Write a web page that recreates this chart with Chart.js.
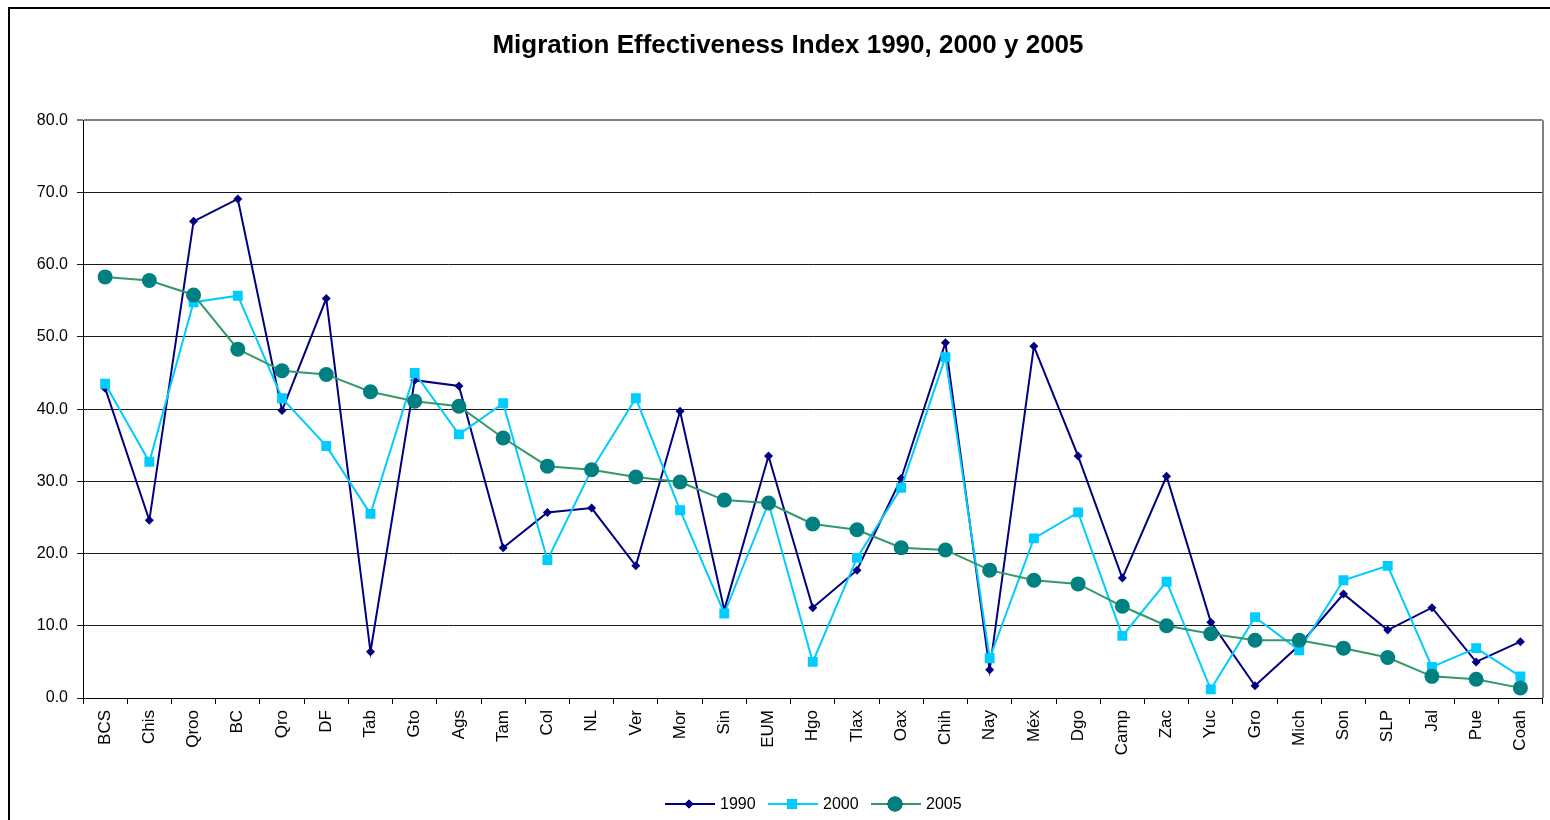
<!DOCTYPE html>
<html>
<head>
<meta charset="utf-8">
<script src="https://cdn.jsdelivr.net/npm/chart.js@4.4.1/dist/chart.umd.min.js"></script>
<style>
  html, body { margin: 0; padding: 0; background: #ffffff; }
  #wrap { width: 1550px; height: 820px; position: relative; }
</style>
</head>
<body>
<div id="wrap"><canvas id="c" width="1550" height="820"></canvas></div>
<script>
const titleText = 'Migration Effectiveness Index 1990, 2000 y 2005';
const categories = ['BCS','Chis','Qroo','BC','Qro','DF','Tab','Gto','Ags','Tam','Col','NL','Ver','Mor','Sin','EUM','Hgo','Tlax','Oax','Chih','Nay','Méx','Dgo','Camp','Zac','Yuc','Gro','Mich','Son','SLP','Jal','Pue','Coah'];
const series1990 = [42.9, 24.6, 66.0, 69.1, 39.8, 55.3, 6.4, 44.0, 43.2, 20.8, 25.7, 26.3, 18.3, 39.7, 12.2, 33.5, 12.5, 17.7, 30.4, 49.2, 3.9, 48.7, 33.5, 16.6, 30.7, 10.5, 1.7, 7.3, 14.4, 9.4, 12.5, 5.0, 7.8];
const series2000 = [43.5, 32.7, 54.8, 55.7, 41.5, 34.9, 25.5, 45.0, 36.5, 40.8, 19.1, 31.6, 41.5, 26.0, 11.7, 27.0, 5.0, 19.4, 29.1, 47.2, 5.5, 22.1, 25.7, 8.6, 16.1, 1.2, 11.2, 6.6, 16.3, 18.3, 4.3, 6.9, 3.0];
const series2005 = [58.3, 57.8, 55.8, 48.3, 45.3, 44.8, 42.4, 41.1, 40.4, 36.0, 32.1, 31.6, 30.6, 29.9, 27.4, 27.0, 24.1, 23.3, 20.8, 20.5, 17.7, 16.3, 15.8, 12.7, 10.0, 8.9, 8.0, 8.0, 6.9, 5.6, 3.0, 2.6, 1.4];
const seriesNames = ['1990', '2000', '2005'];
const yTicks = [0, 10, 20, 30, 40, 50, 60, 70, 80];

const FONT = "'Liberation Sans', Arial, sans-serif";

const styles = [
  { line: '#000080', fill: '#000080', shape: 'rectRot', r: 4.5, order: 2 },
  { line: '#00CCFF', fill: '#00CCFF', shape: 'rect', r: 7, order: 1 },
  { line: '#339966', fill: '#008080', shape: 'circle', r: 7.5, order: 0 }
];
const seriesData = [series1990, series2000, series2005];

const framePlugin = {
  id: 'frame',
  afterDraw(chart) {
    const ctx = chart.ctx;
    const a = chart.chartArea;
    ctx.save();
    // plot area right border (gray)
    ctx.strokeStyle = '#808080';
    ctx.lineWidth = 2;
    ctx.beginPath();
    ctx.moveTo(Math.round(a.right), a.top);
    ctx.lineTo(Math.round(a.right), a.bottom);
    ctx.stroke();
    // outer chart border
    ctx.strokeStyle = '#000000';
    ctx.lineWidth = 2;
    ctx.strokeRect(9, 8, 1700, 1000);
    // legend
    const cy = 804;
    const itemW = [103, 103, 103];
    let x = 665;
    ctx.font = '16px ' + FONT;
    ctx.textBaseline = 'middle';
    ctx.textAlign = 'left';
    for (let i = 0; i < 3; i++) {
      const s = styles[i];
      ctx.strokeStyle = s.line;
      ctx.lineWidth = 2;
      ctx.beginPath();
      ctx.moveTo(x, cy);
      ctx.lineTo(x + 50, cy);
      ctx.stroke();
      Chart.helpers.drawPoint(ctx, { pointStyle: s.shape, radius: s.r, borderWidth: 0 }, x + 24, cy);
      ctx.fillStyle = s.fill;
      ctx.fill();
      ctx.fillStyle = '#000000';
      ctx.fillText(seriesNames[i], x + 55, cy + 1);
      x += itemW[i];
    }
    ctx.restore();
  }
};

new Chart(document.getElementById('c'), {
  type: 'line',
  data: {
    labels: categories,
    datasets: seriesData.map((d, i) => ({
      label: seriesNames[i],
      data: d,
      borderColor: styles[i].line,
      borderWidth: 2,
      backgroundColor: styles[i].fill,
      pointBackgroundColor: styles[i].fill,
      pointBorderColor: styles[i].fill,
      pointBorderWidth: 0,
      pointStyle: styles[i].shape,
      pointRadius: styles[i].r,
      pointHoverRadius: styles[i].r,
      tension: 0,
      fill: false,
      order: styles[i].order
    }))
  },
  options: {
    responsive: false,
    animation: false,
    devicePixelRatio: 1,
    layout: { padding: { left: 31, right: 5, top: 0, bottom: 0 } },
    plugins: {
      legend: { display: false },
      tooltip: { enabled: false },
      title: {
        display: true,
        text: titleText,
        color: '#000000',
        font: { family: FONT, size: 26, weight: 'bold', lineHeight: 1.2 },
        padding: { top: 30, bottom: 59 }
      }
    },
    scales: {
      x: {
        type: 'category',
        offset: true,
        afterFit(scale) { scale.height = 122; },
        grid: {
          display: true,
          drawOnChartArea: false,
          drawTicks: true,
          tickLength: 6,
          offset: true,
          color: '#000000',
          lineWidth: 1
        },
        border: { display: true, color: '#000000', width: 1 },
        ticks: {
          autoSkip: false,
          minRotation: 90,
          maxRotation: 90,
          padding: 6,
          color: '#000000',
          font: { family: FONT, size: 17 }
        }
      },
      y: {
        min: 0,
        max: 80,
        afterFit(scale) { scale.width = 52; },
        afterBuildTicks(scale) { scale.ticks = yTicks.map(v => ({ value: v })); },
        grid: {
          display: true,
          drawOnChartArea: true,
          drawTicks: true,
          tickLength: 6,
          color: (c) => (c.tick && c.tick.value === 80) ? '#808080' : '#1a1a1a',
          lineWidth: (c) => (c.tick && c.tick.value === 80) ? 2 : 1
        },
        border: { display: true, color: '#000000', width: 1 },
        ticks: {
          padding: 9,
          color: '#000000',
          font: { family: FONT, size: 16 },
          callback: (v) => Number(v).toFixed(1)
        }
      }
    }
  },
  plugins: [framePlugin]
});
</script>
</body>
</html>
